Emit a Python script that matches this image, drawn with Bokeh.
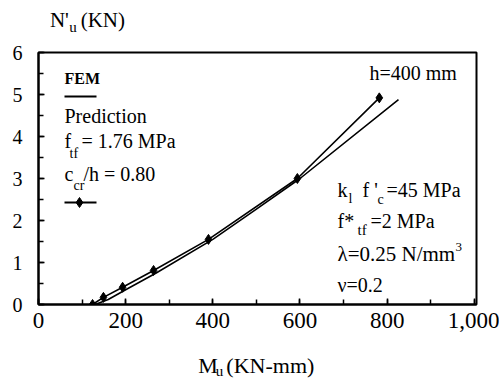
from bokeh.plotting import figure
from bokeh.models import Range1d, Label, FixedTicker
from bokeh.layouts import column
from bokeh.embed import file_html
from bokeh.resources import INLINE

# ---- data ----
fem_x = [130, 160, 200, 270, 400, 500, 600, 826]
fem_y = [0.0, 0.12, 0.35, 0.75, 1.55, 2.27, 3.00, 4.88]
pred_x = [124, 149, 193, 264, 390, 594, 782]
pred_y = [0.0, 0.17, 0.41, 0.81, 1.55, 3.00, 4.92]

x_ticks = [0, 200, 400, 600, 800, 1000]
x_tick_labels = ["0", "200", "400", "600", "800", "1,000"]
y_ticks = [0, 1, 2, 3, 4, 5, 6]
y_tick_labels = ["0", "1", "2", "3", "4", "5", "6"]

# ---- layout ----
W, H = 499, 380
TOP_H, BOT_H = 36, 30
MAIN_H = H - TOP_H - BOT_H
FL, FR, FT, FB = 38, 476, 52, 304   # frame edges in page px
XMAX, YMAX = 1005, 6
FONT = "Liberation Serif"
BASE_SHIFT = 0.38   # empirical baseline correction (em)

def dx(px):
    return (px - FL) / (FR - FL) * XMAX

def dy(py):
    return (FB - py) / (FB - FT) * YMAX

def strip(h):
    f = figure(width=W, height=h, output_backend="svg", toolbar_location=None,
               x_range=Range1d(0, W), y_range=Range1d(0, h),
               x_axis_type=None, y_axis_type=None,
               min_border=0, min_border_left=0, min_border_right=0,
               min_border_top=0, min_border_bottom=0)
    f.outline_line_color = None
    f.grid.visible = False
    f.background_fill_color = "white"
    f.border_fill_color = "white"
    return f

top = strip(TOP_H)
bot = strip(BOT_H)

p = figure(width=W, height=MAIN_H, output_backend="svg", toolbar_location=None,
           x_range=Range1d(0, XMAX), y_range=Range1d(0, YMAX),
           min_border_left=FL, min_border_right=W - FR,
           min_border_top=FT - TOP_H, min_border_bottom=TOP_H + MAIN_H - FB)
p.background_fill_color = "white"
p.border_fill_color = "white"
p.outline_line_color = "black"
p.outline_line_width = 2
p.grid.visible = False

for ax in (p.xaxis[0], p.yaxis[0]):
    ax.axis_line_width = 2
    ax.axis_line_color = "black"
    ax.major_tick_in = 6
    ax.major_tick_out = 0
    ax.minor_tick_in = 5
    ax.minor_tick_out = 0
    ax.major_tick_line_width = 1.5
    ax.minor_tick_line_width = 1.5
    ax.major_label_text_font = FONT
    ax.major_label_text_color = "black"

p.xaxis.ticker = FixedTicker(ticks=x_ticks, minor_ticks=list(range(0, 1001, 100)))
p.xaxis.major_label_overrides = {t: l for t, l in zip(x_ticks, x_tick_labels)}
p.xaxis.major_label_text_font_size = "23px"
p.xaxis.major_label_standoff = 8

p.yaxis.ticker = FixedTicker(ticks=y_ticks, minor_ticks=[i * 0.5 for i in range(13)])
p.yaxis.major_label_overrides = {t: l for t, l in zip(y_ticks, y_tick_labels)}
p.yaxis.major_label_text_font_size = "20px"
p.yaxis.major_label_standoff = 16

# ---- curves ----
p.line(fem_x, fem_y, line_color="black", line_width=1.6)
p.line(pred_x, pred_y, line_color="black", line_width=1.6)
p.scatter(pred_x, pred_y, marker="diamond", size=10, fill_color="black", line_color="black")

# ---- legend samples ----
p.line([dx(64), dx(96)], [dy(96), dy(96)], line_color="black", line_width=1.8)
p.line([dx(64), dx(96)], [dy(202), dy(202)], line_color="black", line_width=1.8)
p.scatter([dx(79)], [dy(202)], marker="diamond", size=10, fill_color="black", line_color="black")

def lab(fig, x, y, s, size, style="normal"):
    fig.add_layout(Label(x=x, y=y, text=s, text_font=FONT,
                         text_font_size=f"{size}px", text_font_style=style,
                         text_color="black", text_baseline="alphabetic",
                         text_align="left"))

def txt(s, px, py, size, style="normal"):
    lab(p, dx(px), dy(py - BASE_SHIFT * size), s, size, style)

def txt_top(s, px, py, size):
    lab(top, px, TOP_H - (py - BASE_SHIFT * size), s, size)

def txt_bot(s, px, py, size):
    lab(bot, px, (H - py) + BASE_SHIFT * size, s, size)

# legend texts
txt("FEM", 64, 84, 16, "bold")
txt("Prediction", 64, 123, 20)
txt("f", 64, 148, 20)
txt("tf", 69, 158, 14)
txt("= 1.76 MPa", 81, 148, 20)
txt("c", 64, 181, 20)
txt("cr", 73, 190, 14)
txt("/h = 0.80", 83, 181, 20)

# right-side annotations
txt("h=400 mm", 369, 80, 20)
txt("k", 337, 197, 20)
txt("l", 348, 203, 14)
txt("f '", 362, 197, 20)
txt("c", 377, 204, 14)
txt("=45 MPa", 386, 197, 20)
txt("f*", 337, 228, 20)
txt("tf", 357, 235, 15)
txt("=2 MPa", 370, 228, 20)
txt("\u03bb=0.25 N/mm", 337, 261, 21)
txt("3", 455, 251, 13)
txt("\u03bd=0.2", 337, 292, 20)

# axis titles
txt_top("N'", 13, 27, 21)
txt_top("u", 35, 32, 15)
txt_top("(KN)", 48, 27, 21)
txt_bot("M", 182, 373, 22)
txt_bot("u", 202, 376, 15)
txt_bot("(KN-mm)", 214, 373, 22)

layout = column(top, p, bot, spacing=0)
open("out.html", "w").write(file_html(layout, INLINE))
